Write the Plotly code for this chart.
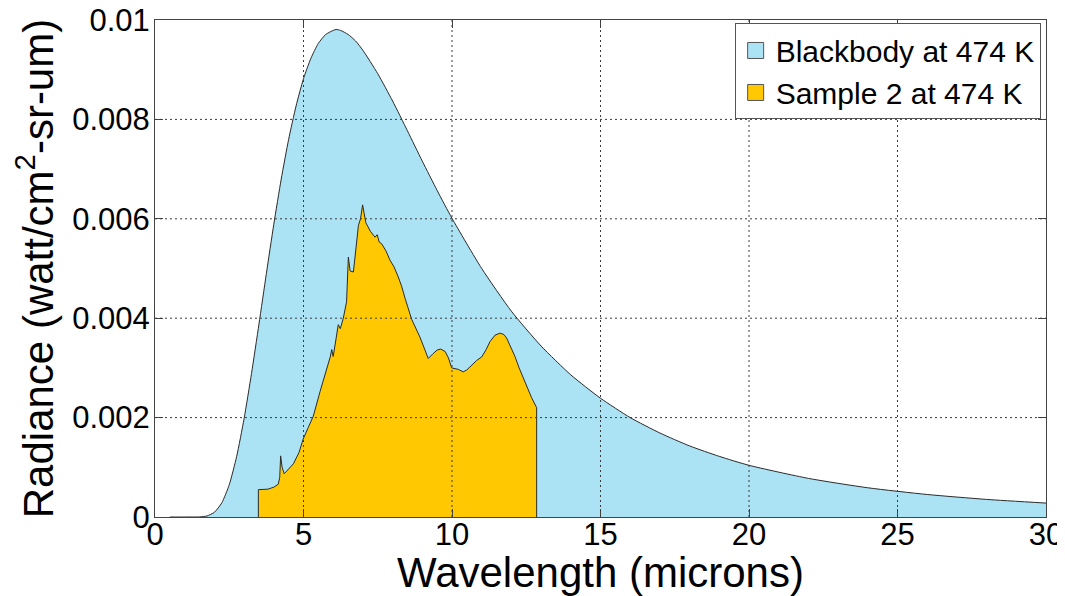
import plotly.graph_objects as go

# ---------------- data ----------------
bb_x = [0.5, 1.0, 1.5, 1.75, 2.0, 2.25, 2.5, 2.75, 3.0, 3.25, 3.5, 3.75, 4.0, 4.25,
        4.5, 4.75, 5.0, 5.25, 5.5, 5.75, 6.0, 6.1, 6.25, 6.5, 6.75, 7.0, 7.5, 8.0, 8.5,
        9.0, 9.5, 10, 11, 12, 13, 14, 15, 16, 17, 18, 19, 20, 22, 24, 26, 28, 30]
bb_y = [0, 0, 0.0000025, 0.000021, 0.000095, 0.000286, 0.00065, 0.00122, 0.00198,
        0.00289, 0.00388, 0.00490, 0.00589, 0.00680, 0.00760, 0.00827, 0.00882,
        0.00923, 0.00953, 0.00971, 0.00979, 0.00981, 0.00979, 0.00971, 0.00958,
        0.00939, 0.00892, 0.00837, 0.00777, 0.00716, 0.00657, 0.00601, 0.00500,
        0.00414, 0.00344, 0.00286, 0.00239, 0.00200, 0.00169, 0.00143, 0.00122,
        0.00104, 0.000777, 0.000588, 0.000453, 0.000354, 0.000280]

sample_x = [3.48, 3.48, 3.80, 4.00, 4.15, 4.20, 4.23, 4.28, 4.35, 4.50, 4.66, 4.85,
            4.99, 5.16, 5.33, 5.56, 5.75, 5.90, 5.95, 6.00, 6.10, 6.17, 6.24, 6.34,
            6.45, 6.51, 6.57, 6.68, 6.85, 6.92, 6.99, 7.05, 7.10, 7.25, 7.41, 7.48,
            7.55, 7.63, 7.78, 7.91, 8.05, 8.19, 8.30, 8.42, 8.64, 8.92, 9.05, 9.20,
            9.35, 9.50, 9.62, 9.77, 9.88, 9.99, 10.21, 10.38, 10.50, 10.61, 10.70,
            10.83, 11.00, 11.15, 11.28, 11.45, 11.62, 11.75, 11.84, 12.00, 12.12,
            12.26, 12.40, 12.55, 12.68, 12.85, 12.85]
sample_y = [0, 0.00055, 0.00056, 0.00060, 0.00066, 0.00080, 0.00123, 0.00100, 0.00087,
            0.00096, 0.00107, 0.00130, 0.00157, 0.00180, 0.00203, 0.00253, 0.00290,
            0.00322, 0.00337, 0.00323, 0.00360, 0.00387, 0.00379, 0.00400, 0.00433,
            0.00523, 0.00495, 0.00493, 0.00587, 0.00600, 0.00628, 0.00605, 0.00592,
            0.00575, 0.00563, 0.00568, 0.00553, 0.00550, 0.00535, 0.00517, 0.00503,
            0.00483, 0.00465, 0.00440, 0.00398, 0.00362, 0.00340, 0.00319, 0.00328,
            0.00336, 0.00338, 0.00333, 0.00320, 0.00300, 0.00297, 0.00292, 0.00296,
            0.00303, 0.00308, 0.00315, 0.00322, 0.00337, 0.00353, 0.00366, 0.00370,
            0.00367, 0.00360, 0.00340, 0.00323, 0.00300, 0.00280, 0.00258, 0.00240,
            0.00220, 0]

x_ticks = [0, 5, 10, 15, 20, 25, 30]
y_ticks = [0, 0.002, 0.004, 0.006, 0.008, 0.01]
y_ticktext = ["0", "0.002", "0.004", "0.006", "0.008", "0.01"]

bb_name = "Blackbody at 474 K"
sample_name = "Sample 2 at 474 K"

# ---------------- styling ----------------
BLUE = "#ABE3F5"
GOLD = "#FFC800"
EDGE = "#2a2a2a"
FONT = "Liberation Sans, Arial, sans-serif"

fig = go.Figure()

fig.add_trace(go.Scatter(x=bb_x, y=bb_y, mode="lines", fill="tozeroy",
                         fillcolor=BLUE, line=dict(color=EDGE, width=1, shape="spline", smoothing=0.6),
                         showlegend=False, hoverinfo="skip"))
fig.add_trace(go.Scatter(x=sample_x, y=sample_y, mode="lines", fill="tozeroy",
                         fillcolor=GOLD, line=dict(color=EDGE, width=1),
                         showlegend=False, hoverinfo="skip"))

# legend entries with square swatches
fig.add_trace(go.Scatter(x=[None], y=[None], mode="markers", name=bb_name,
                         marker=dict(symbol="square", size=30, color=BLUE,
                                     line=dict(color="#555", width=1))))
fig.add_trace(go.Scatter(x=[None], y=[None], mode="markers", name=sample_name,
                         marker=dict(symbol="square", size=30, color=GOLD,
                                     line=dict(color="#555", width=1))))

# dotted grid drawn above the filled areas (as in the reference)
grid_style = dict(color="#3a3a3a", width=1, dash="2px,3px")
for xv in x_ticks[1:-1]:
    fig.add_shape(type="line", xref="x", yref="y", x0=xv, x1=xv, y0=0, y1=0.01,
                  line=grid_style, layer="above")
for yv in y_ticks[1:-1]:
    fig.add_shape(type="line", xref="x", yref="y", x0=0, x1=30, y0=yv, y1=yv,
                  line=grid_style, layer="above")

fig.update_layout(
    width=1057, height=588,
    margin=dict(l=147, r=19, t=12, b=79, autoexpand=False),
    paper_bgcolor="white", plot_bgcolor="white",
    font=dict(family=FONT, color="black"),
    legend=dict(x=0.994, xanchor="right", y=0.993, yanchor="top",
                bgcolor="white", bordercolor="#555", borderwidth=1,
                font=dict(size=30, family=FONT), itemsizing="trace",
                tracegroupgap=0),
)

fig.update_xaxes(range=[0, 30], tickvals=x_ticks, ticks="inside", ticklen=8,
                 tickcolor="#444", showline=True, linecolor="#444", mirror="ticks",
                 showgrid=False, zeroline=False, layer="above traces", automargin=False,
                 ticklabelstandoff=-10, ticklabeloverflow="allow",
                 tickfont=dict(size=31, family=FONT),
                 title=dict(text="Wavelength (microns)", font=dict(size=42, family=FONT),
                            standoff=0))
fig.update_yaxes(range=[0, 0.0100001], tickvals=y_ticks, ticktext=y_ticktext,
                 ticks="inside", ticklen=8, tickcolor="#444", showline=True,
                 linecolor="#444", mirror="ticks", showgrid=False, zeroline=False,
                 layer="above traces", ticklabelstandoff=-2, automargin=False,
                 ticklabeloverflow="allow",
                 tickfont=dict(size=31, family=FONT),
                 title=dict(text="Radiance (watt/cm<sup>2</sup>-sr-um)",
                            font=dict(size=42, family=FONT), standoff=11))

fig.write_html("out.html")
